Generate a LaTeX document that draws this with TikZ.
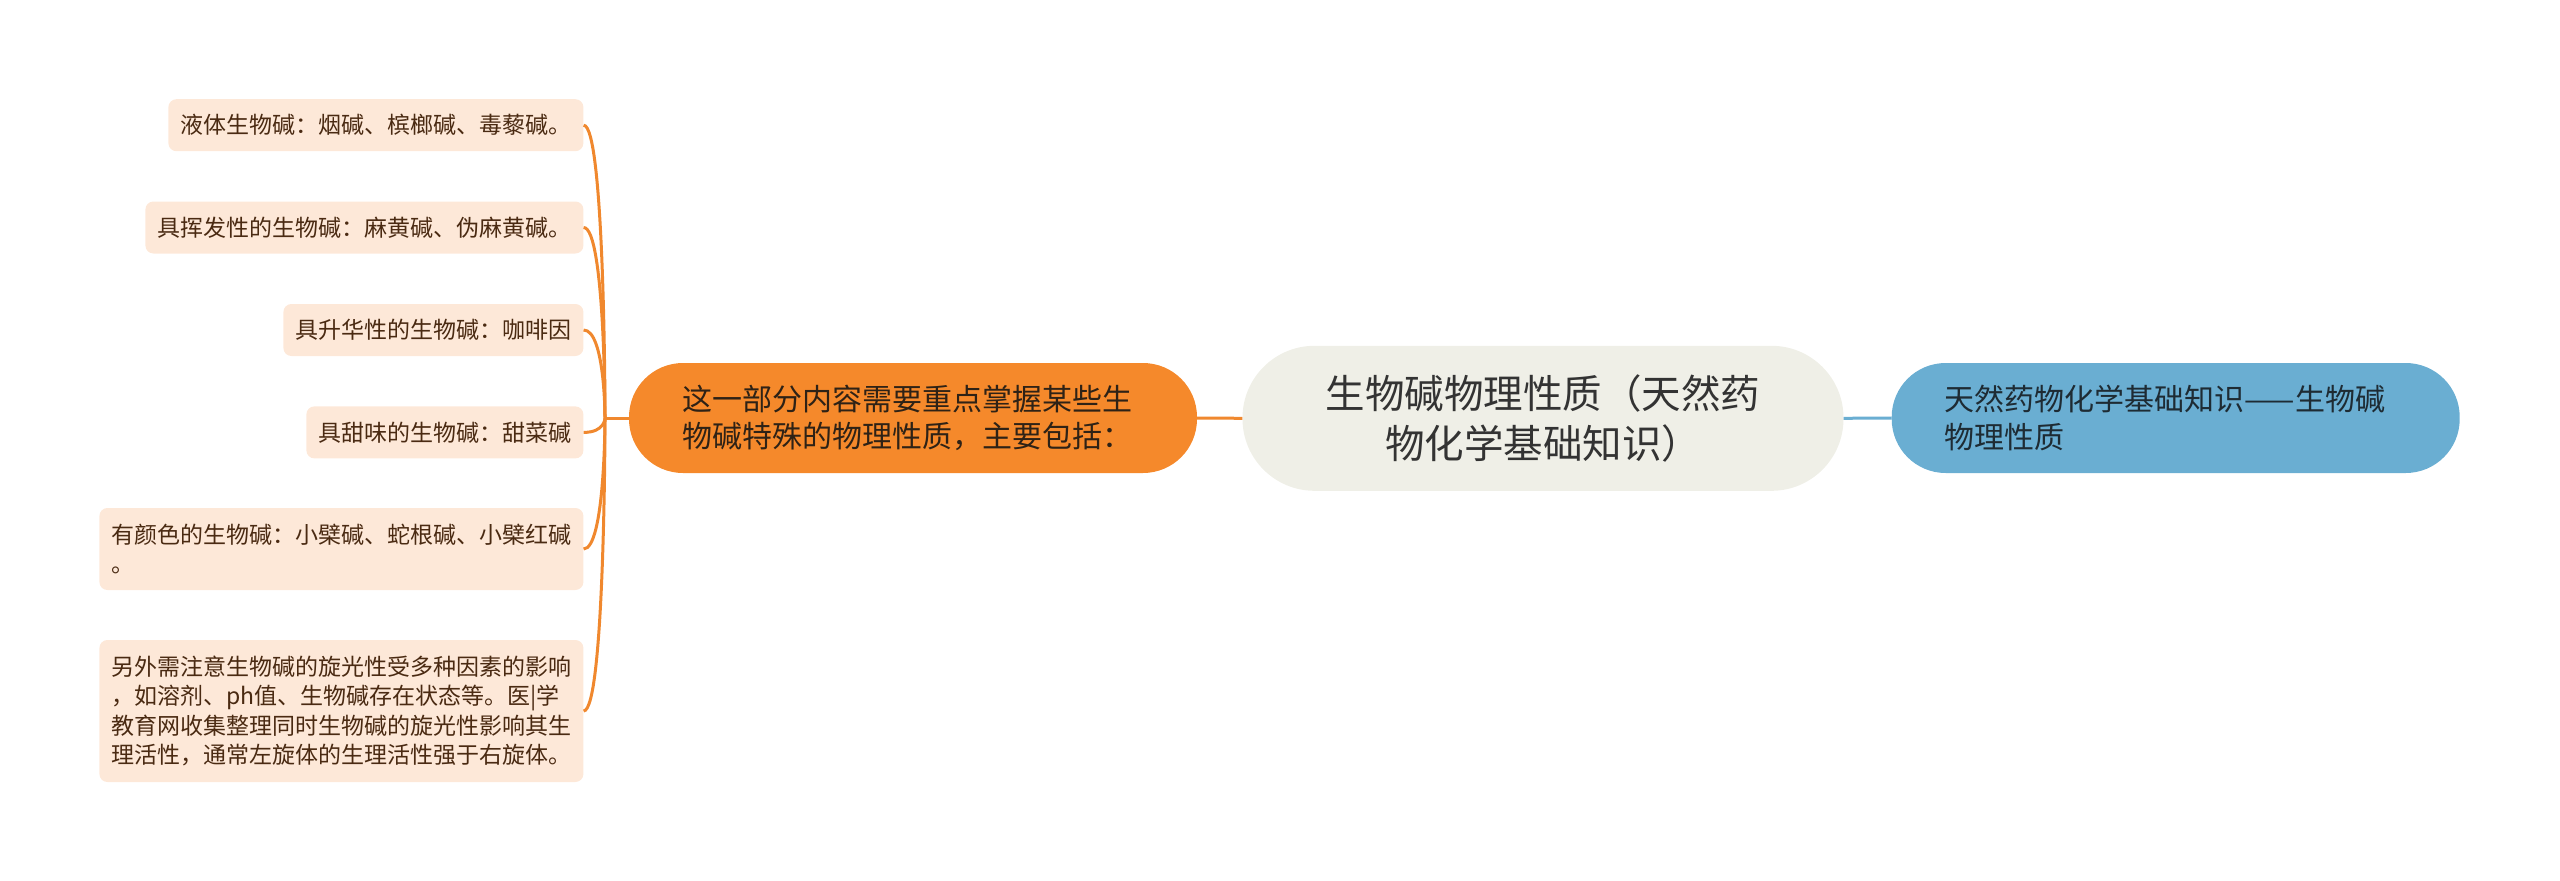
\documentclass[tikz,border=0pt]{standalone}
\usepackage{fontspec}
\setmainfont{Noto Sans CJK SC}
\definecolor{leaffill}{HTML}{FDE8D8}
\definecolor{leaftext}{HTML}{4A2A12}
\definecolor{orfill}{HTML}{F5892B}
\definecolor{ortext}{HTML}{2E2216}
\definecolor{orline}{HTML}{F0882E}
\definecolor{bluefill}{HTML}{6AAED2}
\definecolor{bluetext}{HTML}{1E2B33}
\definecolor{rootfill}{HTML}{EFEFE7}
\definecolor{roottext}{HTML}{333333}
\tikzset{
  leaf/.style={fill=leaffill, rounded corners=8pt, text=leaftext,
    font=\fontsize{23}{29.3}\selectfont, inner xsep=12pt, inner ysep=0pt,
    minimum height=52pt, anchor=east, align=left},
  mainbox/.style={rounded corners=54pt, font=\fontsize{30}{37.5}\selectfont,
    inner xsep=53pt, inner ysep=0pt, minimum width=568pt, minimum height=110pt,
    text width=462pt, align=left},
  rootbox/.style={fill=rootfill, text=roottext, rounded corners=72pt,
    font=\fontsize{39.5}{50}\selectfont, inner sep=0pt, minimum width=601pt,
    minimum height=145pt, text width=460pt, align=center},
  oline/.style={draw=orline, line width=3pt},
  bline/.style={draw=bluefill, line width=3pt}
}
\begin{document}
\begin{tikzpicture}[x=1pt,y=-1pt]
\useasboundingbox (0,0) rectangle (2560,881);
% root
\node[rootbox] (root) at (1543,418.3) {生物碱物理性质（天然药\\物化学基础知识）};
% sub nodes
\node[mainbox, fill=orfill, text=ortext] (sub) at (913,418)
  {这一部分内容需要重点掌握某些生\\物碱特殊的物理性质，主要包括：};
\node[mainbox, fill=bluefill, text=bluetext] (blue) at (2175.7,418)
  {天然药物化学基础知识——生物碱\\物理性质};
% leaves
\node[leaf] (l1) at (583.6,125.2) {液体生物碱：烟碱、槟榔碱、毒藜碱。};
\node[leaf] (l2) at (583.6,227.5) {具挥发性的生物碱：麻黄碱、伪麻黄碱。};
\node[leaf] (l3) at (583.6,330) {具升华性的生物碱：咖啡因};
\node[leaf] (l4) at (583.6,432.4) {具甜味的生物碱：甜菜碱};
\node[leaf, text width=460pt, minimum height=82pt] (l5) at (583.6,549)
  {有颜色的生物碱：小檗碱、蛇根碱、小檗红碱\\。};
\node[leaf, text width=460pt, minimum height=142pt] (l6) at (583.6,711)
  {另外需注意生物碱的旋光性受多种因素的影响\\，如溶剂、ph值、生物碱存在状态等。医|学\\教育网收集整理同时生物碱的旋光性影响其生\\理活性，通常左旋体的生理活性强于右旋体。};
% connectors
\coordinate (bus) at (605,418);
\draw[oline] (sub.west) -- (bus);
\foreach \n in {l1,l2,l3,l4,l5,l6}{
  \draw[oline] (bus) .. controls (bus) and (bus |- \n.east) .. (\n.east);
}
\draw[oline] (sub.east) -- (root.west);
\draw[bline] (root.east) -- (blue.west);
\end{tikzpicture}
\end{document}
